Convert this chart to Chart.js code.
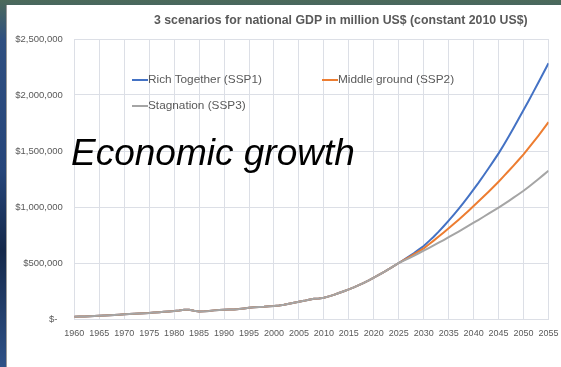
<!DOCTYPE html>
<html>
<head>
<meta charset="utf-8">
<script src="https://cdn.jsdelivr.net/npm/chart.js@4.4.0/dist/chart.umd.min.js"></script>
<style>
  html, body { margin: 0; padding: 0; }
  body {
    width: 561px; height: 367px; overflow: hidden; position: relative;
    background: linear-gradient(180deg, #4c6a5a 0px, #2f4f80 40px, #26457a 170px, #14284a 250px, #2f5288 367px);
  }
  #panel { position: absolute; left: 6px; top: 5px; right: 0; bottom: 0; background: #fff; border-left: 1px solid #9a9a9a; }
  #chart { position: absolute; left: 0; top: 0; }
  #title {
    position: absolute; left: 154px; top: 13px; white-space: nowrap;
    font: bold 12.3px "Liberation Sans", Arial, sans-serif; color: #595959;
  }
  .item {
    position: absolute; white-space: nowrap; line-height: 14px;
    font: 11.8px "Liberation Sans", Arial, sans-serif; color: #595959;
  }
  .item span { display: inline-block; width: 16px; height: 2px; vertical-align: middle; margin-right: 0; }
  #note {
    position: absolute; left: 71px; top: 132px; white-space: nowrap; line-height: 37px;
    font: italic 37px "Liberation Sans", Arial, sans-serif; color: #000;
  }
</style>
</head>
<body>
<div id="panel"></div>
<canvas id="chart" width="561" height="367"></canvas>
<div id="title">3 scenarios for national GDP in million US$ (constant 2010 US$)</div>
<div id="legend"></div>
<div id="note">Economic growth</div>
<script>
// years on the category axis, one point per year
const years = [
  1960, 1961, 1962, 1963, 1964, 1965, 1966, 1967, 1968, 1969,
  1970, 1971, 1972, 1973, 1974, 1975, 1976, 1977, 1978, 1979,
  1980, 1981, 1982, 1983, 1984, 1985, 1986, 1987, 1988, 1989,
  1990, 1991, 1992, 1993, 1994, 1995, 1996, 1997, 1998, 1999,
  2000, 2001, 2002, 2003, 2004, 2005, 2006, 2007, 2008, 2009,
  2010, 2011, 2012, 2013, 2014, 2015, 2016, 2017, 2018, 2019,
  2020, 2021, 2022, 2023, 2024, 2025, 2026, 2027, 2028, 2029,
  2030, 2031, 2032, 2033, 2034, 2035, 2036, 2037, 2038, 2039,
  2040, 2041, 2042, 2043, 2044, 2045, 2046, 2047, 2048, 2049,
  2050, 2051, 2052, 2053, 2054, 2055
];

// observed GDP 1960-2024 (same for all scenarios)
const history = [
  20000, 21500, 23000, 25000, 27500, 29500, 32000, 34000, 36500, 39000,
  42000, 44000, 46500, 49000, 51000, 53500, 57000, 61000, 65000, 68000,
  71000, 76000, 82000, 82000, 74000, 68000, 69000, 72000, 77000, 80000,
  83000, 84000, 85000, 89000, 94000, 100000, 104000, 108000, 110000, 113000,
  116000, 121000, 128000, 137000, 146000, 154000, 162000, 172000, 180000, 183000,
  190000, 202000, 215000, 232000, 248000, 265000, 283000, 302000, 323000, 345000,
  369000, 393000, 419000, 445000, 472000
];

// projections 2025-2055
const ssp1 = [
  500000, 528000, 557000, 587000, 619000, 652000, 693000, 735000, 780000, 828000,
  878000, 930000, 984000, 1040000, 1098000, 1158000, 1218000, 1281000, 1346000, 1412000,
  1479000, 1552000, 1627000, 1705000, 1785000, 1866000, 1947000, 2030000, 2114000, 2199000,
  2283000
];
const ssp2 = [
  500000, 525000, 550000, 576000, 603000, 631000, 665000, 700000, 736000, 773000,
  810000, 848000, 887000, 926000, 967000, 1009000, 1051000, 1094000, 1137000, 1181000,
  1226000, 1273000, 1321000, 1370000, 1420000, 1470000, 1525000, 1581000, 1638000, 1697000,
  1757000
];
const ssp3 = [
  500000, 521000, 542000, 564000, 587000, 610000, 633000, 657000, 681000, 705000,
  730000, 755000, 781000, 807000, 833000, 860000, 886000, 913000, 940000, 967000,
  995000, 1024000, 1053000, 1083000, 1114000, 1145000, 1179000, 1214000, 1250000, 1287000,
  1324000
];

const seriesNames = ['Rich Together (SSP1)', 'Middle ground (SSP2)', 'Stagnation (SSP3)'];
const seriesColors = ['#4472C4', '#ED7D31', '#A5A5A5'];

const GRID = '#dcdfe6';
const TXT = '#595959';
const FONT = "'Liberation Sans', Arial, sans-serif";

// legend (sits inside the plot like the Excel one)
const legendPos = [[132, 72], [322, 72], [132, 98]];
const legendEl = document.getElementById('legend');
seriesNames.forEach((name, i) => {
  const d = document.createElement('div');
  d.className = 'item';
  d.style.left = legendPos[i][0] + 'px';
  d.style.top = legendPos[i][1] + 'px';
  d.innerHTML = '<span style="background:' + seriesColors[i] + '"></span>' + name;
  legendEl.appendChild(d);
});

const projections = [ssp1, ssp2, ssp3];
const datasets = seriesNames.map((name, i) => ({
  label: name,
  data: history.concat(projections[i]),
  borderColor: seriesColors[i],
  backgroundColor: seriesColors[i],
  borderWidth: 2,
  pointRadius: 0,
  tension: 0,
  fill: false,
  order: 2 - i // gray drawn last, on top
}));

new Chart(document.getElementById('chart'), {
  type: 'line',
  data: { labels: years, datasets: datasets },
  options: {
    responsive: false,
    animation: false,
    layout: { padding: { left: 0, right: 12.5, top: 39, bottom: 0 } },
    plugins: {
      legend: { display: false },
      title: { display: false },
      tooltip: { enabled: false }
    },
    scales: {
      x: {
        type: 'linear',
        min: 1960,
        max: 2055,
        // fixed height, and no extra room asked for the end labels
        afterFit: s => { s.height = 48; s.paddingLeft = 0; s.paddingRight = 0; },
        border: { color: GRID },
        grid: { color: GRID, drawTicks: false },
        ticks: {
          stepSize: 5,
          autoSkip: false,
          maxRotation: 0,
          padding: 9,
          color: TXT,
          font: { family: FONT, size: 9 },
          callback: v => String(v)
        }
      },
      y: {
        min: 0,
        max: 2500000,
        afterFit: s => { s.width = 74.3; },
        border: { display: false },
        grid: { color: GRID, drawTicks: false },
        ticks: {
          stepSize: 500000,
          padding: 11.5,
          color: TXT,
          font: { family: FONT, size: 9.5 },
          callback: v => v === 0 ? '$-  ' : '$' + v.toLocaleString('en-US')
        }
      }
    }
  }
});
</script>
</body>
</html>
